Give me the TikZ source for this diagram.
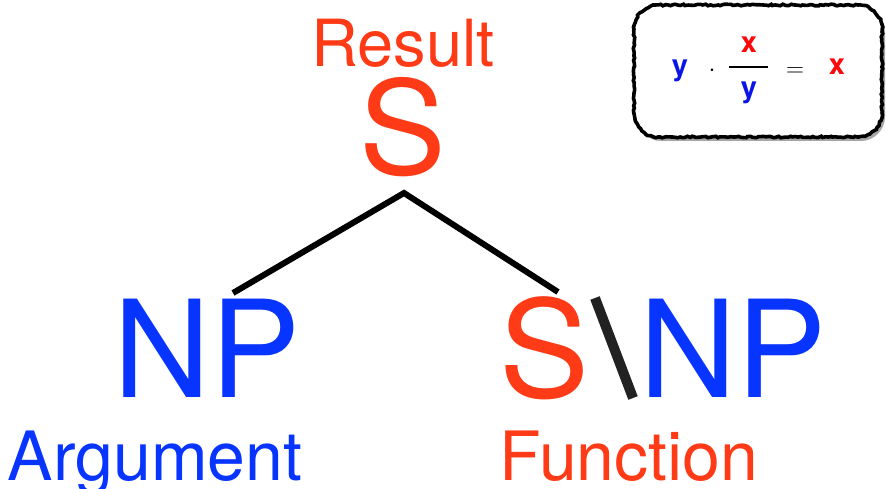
\documentclass[tikz,border=0pt]{standalone}
\usepackage{fontspec}
\setmainfont{TeX Gyre Heros}
\usetikzlibrary{decorations.pathmorphing}
\definecolor{catred}{RGB}{255,58,22}
\definecolor{catblue}{RGB}{8,52,255}
\definecolor{eqred}{RGB}{250,10,10}
\definecolor{eqblue}{RGB}{10,20,230}
\definecolor{slash}{RGB}{34,34,34}
\tikzset{
  lbl/.style={inner sep=0pt, anchor=base},
  cat/.style={lbl, font=\fontsize{135}{150}\selectfont},
  role/.style={lbl, font=\fontsize{68}{80}\selectfont},
  eqsym/.style={lbl, font=\bfseries\fontsize{29}{34}\selectfont},
  eqop/.style={lbl, font=\fontsize{38}{44}\selectfont},
  branch/.style={line width=6pt, line join=miter},
  roughedge/.style={draw=black, line width=3.6pt, fill=white,
    decorate, decoration={random steps, segment length=2.5pt, amplitude=0.8pt}},
  boxshadow/.style={fill=black, opacity=0.35}
}
% rounded outline of the rule box
\newcommand{\ruleoutline}{(658,5) -- (858,5) .. controls (871,5) and (882,16) .. (882,29)
  -- (882,113) .. controls (882,126) and (871,137) .. (858,137)
  -- (658,137) .. controls (645,137) and (634,126) .. (634,113)
  -- (634,29) .. controls (634,16) and (645,5) .. (658,5) -- cycle}
\begin{document}
\begin{tikzpicture}[x=1pt, y=-1pt]
\useasboundingbox (0,0) rectangle (886,489);

% top of the derivation
\node[lbl, text=catred, font=\fontsize{65}{78}\selectfont] (result) at (403,67) {Result};
\node[lbl, text=catred, font=\fontsize{130}{150}\selectfont] (top) at (403,175) {S};

% the two daughters
\node[cat, text=catblue] (np) at (207,397) {NP};
\node[cat, text=catred] (fs) at (545,397) {S};
\node[cat, text=catblue] (fnp) at (733,397) {NP};
\coordinate (bsTop) at (595,298);
\coordinate (bsBot) at (633,398);
\draw[slash, line width=10pt] (bsTop) -- (bsBot);

% branches
\coordinate (apex) at (404,193);
\coordinate (leftEnd) at (233,293);
\coordinate (rightEnd) at (558,292);
\draw[branch] (leftEnd) -- (apex) -- (rightEnd);

% roles
\node[role, text=catblue] (arg) at (155,480) {Argument};
\node[role, text=catred] (fun) at (629,480) {Function};

% rule box with its soft shadow
\begin{scope}[shift={(3,4)}]
  \fill[boxshadow] \ruleoutline;
\end{scope}
\path[roughedge] \ruleoutline;
\node[eqsym, text=eqblue] (ya) at (680,76) {y};
\node[eqop] (dot) at (712,77) {$\cdot$};
\node[eqsym, text=eqred] (num) at (749,53) {x};
\node[eqsym, text=eqblue] (den) at (749,98) {y};
\coordinate (barL) at (729,67);
\coordinate (barR) at (768,67);
\draw[line width=1.4pt] (barL) -- (barR);
\node[eqop] (eq) at (795,77) {$=$};
\node[eqsym, text=eqred] (xr) at (837,75) {x};
\end{tikzpicture}
\end{document}
